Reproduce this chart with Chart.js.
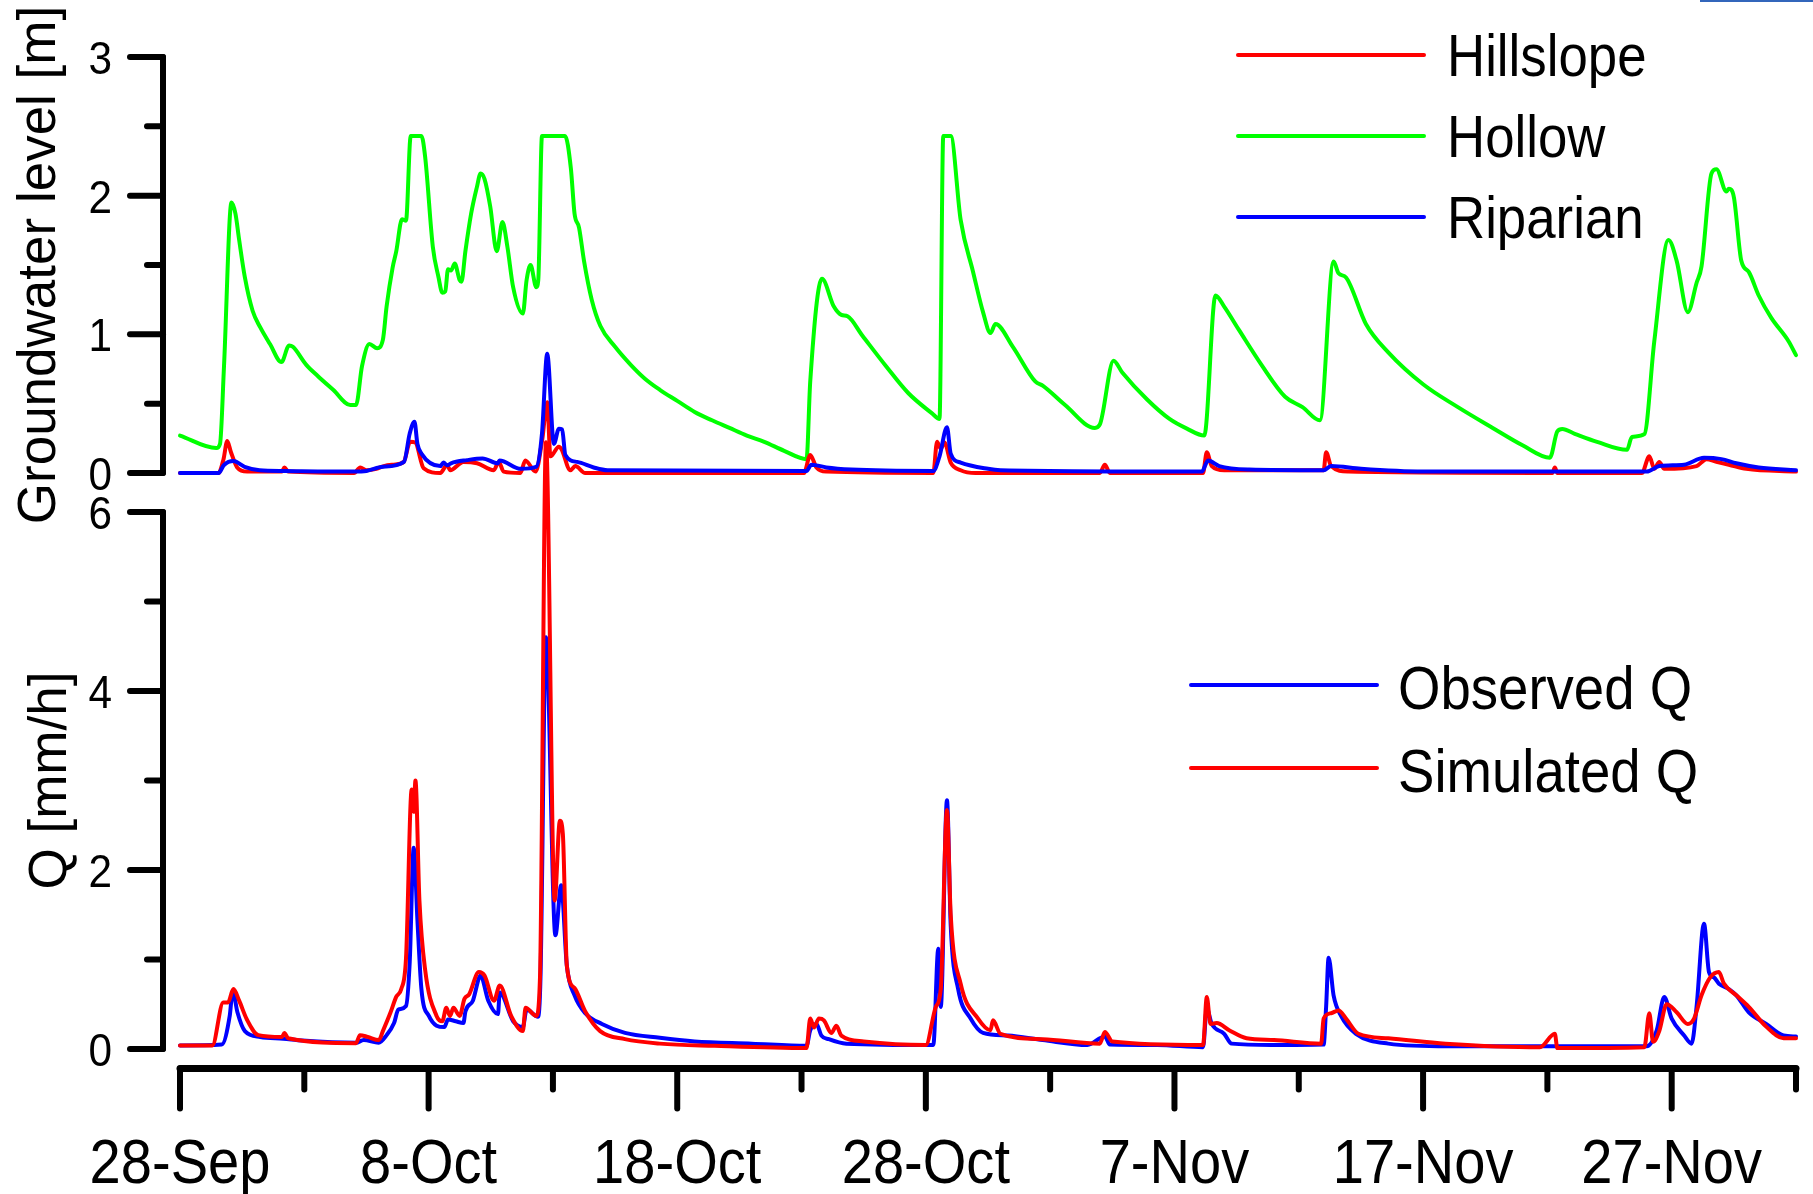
<!DOCTYPE html>
<html>
<head>
<meta charset="utf-8">
<title>Groundwater level and discharge</title>
<script src="https://cdn.jsdelivr.net/npm/chart.js@4/dist/chart.umd.min.js"></script>
<style>
  html, body { margin: 0; padding: 0; background: #fff; }
  #wrap { position: relative; width: 1813px; height: 1194px; overflow: hidden; }
  #wrap canvas { position: absolute; left: 0; top: 0; }
  #corner { position: absolute; left: 1700px; top: 0; width: 113px; height: 2px; background: #3366bb; }
</style>
</head>
<body>
<div id="wrap">
  <canvas id="gw-chart" width="1813" height="1194"></canvas>
  <canvas id="q-chart" width="1813" height="1194"></canvas>
  <div id="corner"></div>
</div>
<script>
// x values are days since 28-Sep 00:00
const dateLabels = ['28-Sep', '8-Oct', '18-Oct', '28-Oct', '7-Nov', '17-Nov', '27-Nov'];

// ---- groundwater level [m] ----
const hillslopeDays = [0, 1.55, 1.75, 1.9, 2.05, 2.3, 2.7, 4.1, 4.2, 4.35, 7.0, 7.25, 7.5, 7.9, 8.2, 8.6, 9.0, 9.26, 9.46, 9.8,
  10.47, 10.74, 10.87, 11.4, 11.95, 12.62, 12.82, 13.02, 13.69, 13.89, 14.3, 14.57, 14.77, 14.9, 15.24, 15.35, 15.7, 15.9, 16.3,
  17.5, 25.1, 25.35, 25.6, 26.0, 30.3, 30.45, 30.6, 30.75, 31.0, 31.4, 32.0, 37.0, 37.2, 37.4, 41.15, 41.3, 41.5, 42.0,
  46.0, 46.1, 46.3, 47.0, 55.2, 55.3, 55.4, 58.8, 59.1, 59.3, 59.5, 59.7, 61.0, 61.4, 61.8, 62.3, 63.0, 65.0];
const hillslopeLevel = [0, 0, 0.10, 0.23, 0.15, 0.04, 0.01, 0.01, 0.04, 0.01, 0, 0.04, 0.02, 0.03, 0.05, 0.06, 0.08, 0.225, 0.22, 0.034,
  0, 0.058, 0.02, 0.08, 0.07, 0.02, 0.08, 0.01, 0, 0.09, 0.01, 0.24, 0.51, 0.12, 0.19, 0.17, 0.02, 0.05, 0,
  0, 0, 0.13, 0.04, 0.01, 0, 0.225, 0.175, 0.22, 0.075, 0.02, 0, 0, 0.06, 0, 0, 0.15, 0.05, 0.02,
  0.02, 0.15, 0.05, 0.01, 0, 0.04, 0, 0, 0.12, 0.03, 0.08, 0.03, 0.05, 0.10, 0.08, 0.06, 0.03, 0.01];

const hollowDays = [0, 1.46, 1.61, 1.77, 2.07, 2.23, 2.38, 2.61, 2.92, 3.23, 3.62, 4.08, 4.39, 4.54, 5.08, 5.54, 6.16, 6.85, 7.08,
  7.32, 7.62, 7.93, 8.16, 8.31, 8.55, 8.70, 8.93, 9.09, 9.28, 9.71, 9.86, 10.17, 10.40, 10.55, 10.67, 10.78, 10.90, 11.05,
  11.25, 11.32, 11.48, 11.71, 11.94, 12.09, 12.25, 12.48, 12.74, 12.97, 13.17, 13.40, 13.79, 13.94, 14.10, 14.33, 14.41,
  14.56, 15.49, 15.72, 15.87, 16.05, 16.25, 16.56, 16.91, 17.5, 18.13, 18.7, 19.3, 20.0, 20.7, 21.4, 22.1, 22.8, 23.5, 24.3,
  25.2, 25.35, 25.82, 26.3, 26.6, 26.85, 27.45, 28.4, 29.3, 30.25, 30.55, 30.7, 31.0, 31.4, 31.9, 32.3, 32.6, 32.8, 33.5,
  34.4, 34.7, 35.6, 36.8, 37.0, 37.55, 37.9, 38.9, 39.8, 40.5, 41.2, 41.65, 42.0, 42.6, 43.5, 44.45, 45.15, 45.85, 46.4,
  46.6, 46.9, 47.7, 48.6, 50.0, 51.4, 52.8, 54.0, 55.1, 55.4, 55.6, 56.1, 57.0, 58.2, 58.4, 58.9, 59.3, 59.87, 60.2, 60.65,
  61.0, 61.2, 61.6, 61.8, 62.2, 62.3, 62.5, 62.8, 63.1, 63.5, 64.0, 64.7, 65.0];
const hollowLevel = [0.27, 0.18, 0.21, 0.77, 1.95, 1.87, 1.68, 1.41, 1.17, 1.05, 0.93, 0.80, 0.92, 0.91, 0.78, 0.70, 0.60, 0.49, 0.49,
  0.77, 0.93, 0.90, 0.96, 1.20, 1.48, 1.60, 1.83, 1.82, 2.43, 2.43, 2.28, 1.63, 1.41, 1.30, 1.31, 1.47, 1.46, 1.51,
  1.39, 1.38, 1.60, 1.87, 2.06, 2.16, 2.12, 1.92, 1.60, 1.81, 1.63, 1.34, 1.15, 1.39, 1.50, 1.34, 1.39,
  2.43, 2.43, 2.20, 1.87, 1.77, 1.53, 1.25, 1.06, 0.91, 0.78, 0.68, 0.60, 0.52, 0.44, 0.38, 0.325, 0.27, 0.225, 0.16,
  0.10, 0.66, 1.40, 1.20, 1.14, 1.13, 0.99, 0.77, 0.575, 0.43, 0.39, 2.43, 2.43, 1.825, 1.45, 1.16, 1.01, 1.075, 0.91,
  0.66, 0.63, 0.49, 0.325, 0.35, 0.81, 0.725, 0.53, 0.39, 0.32, 0.27, 1.28, 1.20, 1.03, 0.78, 0.55, 0.475, 0.38, 1.525,
  1.44, 1.41, 1.075, 0.87, 0.64, 0.475, 0.325, 0.20, 0.11, 0.30, 0.317, 0.283, 0.225, 0.167, 0.26, 0.28, 0.95, 1.68, 1.53, 1.16,
  1.37, 1.49, 2.16, 2.19, 2.03, 2.05, 1.99, 1.53, 1.45, 1.28, 1.12, 0.95, 0.85];

const riparianDays = [0, 1.55, 1.77, 2.15, 2.6, 3.2, 4.2, 7.0, 7.5, 8.16, 9.01, 9.24, 9.43, 9.55, 9.71, 10.47, 10.6, 10.75, 10.9,
  11.55, 12.17, 12.79, 12.85, 13.71, 14.33, 14.56, 14.77, 15.04, 15.24, 15.37, 15.5, 15.98, 16.64, 17.2, 25.2, 25.4, 26.0,
  27.0, 30.3, 30.55, 30.85, 31.0, 31.4, 32.5, 33.0, 41.1, 41.35, 41.8, 43.0, 46.0, 46.3, 47.5, 50.0, 59.0, 59.5, 60.5,
  61.3, 62.0, 62.6, 63.5, 65.0];
const riparianLevel = [0, 0, 0.058, 0.086, 0.045, 0.02, 0.015, 0.01, 0.015, 0.045, 0.08, 0.285, 0.37, 0.21, 0.14, 0.05, 0.075, 0.055, 0.07,
  0.093, 0.105, 0.07, 0.09, 0.03, 0.045, 0.285, 0.86, 0.21, 0.32, 0.315, 0.13, 0.08, 0.04, 0.02, 0.015, 0.06, 0.04,
  0.025, 0.015, 0.12, 0.33, 0.14, 0.075, 0.03, 0.02, 0.01, 0.09, 0.05, 0.025, 0.02, 0.05, 0.03, 0.01, 0.01, 0.05, 0.06,
  0.11, 0.10, 0.07, 0.04, 0.02];

// ---- discharge Q [mm/h] ----
const observedDays = [0, 1.68, 2.0, 2.12, 2.31, 2.61, 3.23, 4.16, 4.92, 7.08, 7.39, 7.99, 8.31, 8.61, 8.78, 9.09, 9.24, 9.4, 9.55,
  9.71, 10.01, 10.63, 10.78, 11.09, 11.4, 11.48, 11.78, 12.09, 12.4, 12.79, 12.86, 13.4, 13.79, 13.94, 14.4, 14.5, 14.72,
  15.1, 15.33, 15.56, 15.87, 16.3, 16.97, 17.9, 19.3, 20.7, 23.0, 25.2, 25.35, 25.6, 25.8, 26.1, 26.8, 30.3, 30.5, 30.6,
  30.85, 31.0, 31.3, 31.8, 32.3, 33.3, 34.7, 36.5, 37.2, 37.4, 39.3, 41.15, 41.3, 41.5, 42.0, 42.3, 43.9, 46.0, 46.1, 46.2,
  46.4, 46.7, 47.3, 48.6, 51.0, 59.0, 59.4, 59.7, 60.0, 60.5, 60.8, 61.0, 61.3, 61.5, 61.7, 61.9, 62.3, 62.6, 63.1, 63.8,
  64.5, 65.0];
const observedQ = [0.04, 0.05, 0.37, 0.65, 0.41, 0.20, 0.135, 0.115, 0.095, 0.07, 0.10, 0.07, 0.155, 0.29, 0.44, 0.48, 0.97, 2.25, 1.44,
  0.67, 0.37, 0.245, 0.33, 0.31, 0.29, 0.42, 0.54, 0.82, 0.54, 0.39, 0.63, 0.31, 0.245, 0.44, 0.36, 0.8, 4.6,
  1.27, 1.83, 0.93, 0.6, 0.4, 0.28, 0.18, 0.125, 0.085, 0.06, 0.035, 0.21, 0.28, 0.15, 0.11, 0.06, 0.045, 1.12, 0.47,
  2.78, 1.38, 0.67, 0.34, 0.18, 0.15, 0.10, 0.045, 0.14, 0.05, 0.045, 0.02, 0.45, 0.28, 0.17, 0.06, 0.045, 0.05, 0.47, 1.02,
  0.6, 0.37, 0.17, 0.06, 0.03, 0.03, 0.21, 0.58, 0.34, 0.15, 0.06, 0.47, 1.4, 0.86, 0.8, 0.73, 0.67, 0.6, 0.41, 0.28,
  0.15, 0.14];

const simulatedDays = [0, 1.3, 1.74, 1.93, 2.15, 2.38, 2.69, 3.15, 4.1, 4.2, 4.35, 7.08, 7.24, 7.55, 8.0, 8.16, 8.47, 8.7, 8.9, 9.09,
  9.32, 9.4, 9.47, 9.63, 9.86, 10.32, 10.55, 10.71, 10.86, 11.0, 11.25, 11.44, 11.63, 12.02, 12.25, 12.63, 12.86, 13.32,
  13.79, 13.9, 14.33, 14.48, 14.72, 15.07, 15.28, 15.4, 15.56, 15.87, 16.3, 16.9, 17.9, 19.3, 21.5, 25.2, 25.35, 25.5,
  25.7, 25.9, 26.2, 26.4, 26.6, 27.5, 30.0, 30.4, 30.6, 30.85, 31.0, 31.4, 32.1, 32.6, 32.7, 33.0, 34.7, 37.0, 37.2, 37.5,
  41.15, 41.3, 41.45, 41.7, 42.2, 42.9, 44.0, 45.9, 46.0, 46.3, 46.6, 46.9, 47.4, 48.6, 50.9, 54.7, 55.3, 55.4, 58.9, 59.1,
  59.25, 59.5, 59.8, 60.2, 60.65, 60.9, 61.2, 61.55, 61.9, 62.1, 62.6, 63.1, 63.8, 64.5, 65.0];
const simulatedQ = [0.04, 0.04, 0.52, 0.52, 0.67, 0.54, 0.33, 0.155, 0.135, 0.18, 0.12, 0.065, 0.155, 0.135, 0.10, 0.20, 0.41, 0.585, 0.67, 1.01,
  2.9, 2.65, 3.0, 1.66, 0.885, 0.37, 0.31, 0.46, 0.37, 0.46, 0.37, 0.56, 0.61, 0.86, 0.82, 0.54, 0.71, 0.37,
  0.2, 0.46, 0.37, 0.8, 6.78, 1.66, 2.55, 2.4, 0.93, 0.68, 0.42, 0.2, 0.11, 0.06, 0.035, 0.01, 0.34, 0.24,
  0.34, 0.32, 0.18, 0.26, 0.15, 0.085, 0.045, 0.47, 0.67, 2.67, 1.5, 0.73, 0.34, 0.21, 0.32, 0.17, 0.11, 0.06, 0.19, 0.085,
  0.045, 0.58, 0.28, 0.29, 0.21, 0.12, 0.10, 0.06, 0.34, 0.40, 0.43, 0.34, 0.17, 0.12, 0.06, 0.02, 0.17, 0.01, 0.02, 0.40,
  0.08, 0.2, 0.50, 0.41, 0.28, 0.34, 0.60, 0.80, 0.86, 0.73, 0.60, 0.47, 0.25, 0.12, 0.12];

// ---- helpers ----
const FONT = '"Liberation Sans", Arial, sans-serif';

function toPoints(days, values) {
  return days.map((d, i) => ({ x: d, y: values[i] }));
}

// text is a bit narrower than the plain face in the original figure
function drawText(ctx, text, x, y, size, align, squeeze) {
  ctx.save();
  ctx.font = size + 'px ' + FONT;
  ctx.fillStyle = '#000';
  ctx.textAlign = align;
  ctx.textBaseline = 'alphabetic';
  ctx.translate(x, y);
  ctx.scale(squeeze, 1);
  ctx.fillText(text, 0, 0);
  ctx.restore();
}

// left value axis: thick line, long/short ticks, labels, rotated title
const leftAxisPlugin = {
  id: 'leftAxis',
  beforeDatasetsDraw(chart, args, opts) {
    const ctx = chart.ctx;
    const y = chart.scales.y;
    const ax = opts.axisX;
    ctx.save();
    ctx.strokeStyle = '#000';
    ctx.lineCap = 'round';
    ctx.lineWidth = 6;
    ctx.beginPath();
    ctx.moveTo(ax, y.getPixelForValue(y.max));
    ctx.lineTo(ax, y.getPixelForValue(y.min));
    ctx.stroke();
    const n = Math.round((y.max - y.min) / opts.minorStep);
    for (let i = 0; i <= n; i++) {
      const v = y.min + i * opts.minorStep;
      const py = y.getPixelForValue(v);
      const major = i % 2 === 0;
      ctx.beginPath();
      ctx.moveTo(ax - (major ? 33 : 16), py);
      ctx.lineTo(ax, py);
      ctx.stroke();
      if (major) drawText(ctx, String(v), 112, py + 17, 46, 'right', 0.92);
    }
    ctx.translate(opts.titleX, (y.top + y.bottom) / 2);
    ctx.rotate(-Math.PI / 2);
    ctx.font = '53px ' + FONT;
    ctx.fillStyle = '#000';
    ctx.textAlign = 'center';
    ctx.fillText(opts.title, 0, 0);
    ctx.restore();
  }
};

// bottom date axis
const dateAxisPlugin = {
  id: 'dateAxis',
  beforeDatasetsDraw(chart, args, opts) {
    if (!opts.show) return;
    const ctx = chart.ctx;
    const x = chart.scales.x;
    const ay = opts.axisY;
    ctx.save();
    ctx.strokeStyle = '#000';
    ctx.lineCap = 'round';
    ctx.lineWidth = 7;
    ctx.beginPath();
    ctx.moveTo(x.getPixelForValue(x.min), ay);
    ctx.lineTo(x.getPixelForValue(x.max), ay);
    ctx.stroke();
    ctx.lineWidth = 6;
    for (let d = x.min, i = 0; d <= x.max; d += 5, i++) {
      const px = x.getPixelForValue(d);
      const major = i % 2 === 0;
      ctx.beginPath();
      ctx.moveTo(px, ay);
      ctx.lineTo(px, ay + (major ? 40 : 21));
      ctx.stroke();
      if (major && dateLabels[i / 2]) drawText(ctx, dateLabels[i / 2], px, 1183, 63, 'center', 0.89);
    }
    ctx.restore();
  }
};

// line-sample key
const seriesKeyPlugin = {
  id: 'seriesKey',
  afterDraw(chart, args, opts) {
    const ctx = chart.ctx;
    ctx.save();
    ctx.lineCap = 'round';
    ctx.lineWidth = 4;
    opts.items.forEach((idx, k) => {
      const ds = chart.data.datasets[idx];
      const yy = opts.y0 + k * opts.step;
      ctx.strokeStyle = ds.borderColor;
      ctx.beginPath();
      ctx.moveTo(opts.x0, yy);
      ctx.lineTo(opts.x1, yy);
      ctx.stroke();
      drawText(ctx, ds.label, opts.textX, yy + opts.dy, opts.size, 'left', 0.88);
    });
    ctx.restore();
  }
};

function lineSet(label, points, color, order) {
  return { label, data: points, borderColor: color, backgroundColor: color, order, clip: false };
}

function baseOptions(padding, yMax, axisOpts, keyOpts, dateOpts) {
  return {
    responsive: false,
    animation: false,
    devicePixelRatio: 1,
    layout: { padding },
    elements: {
      point: { radius: 0 },
      line: { borderWidth: 4, cubicInterpolationMode: 'monotone', borderJoinStyle: 'round', borderCapStyle: 'round' }
    },
    scales: {
      x: { type: 'linear', min: 0, max: 65, display: false },
      y: { min: 0, max: yMax, display: false }
    },
    plugins: {
      legend: { display: false },
      tooltip: { enabled: false },
      leftAxis: axisOpts,
      seriesKey: keyOpts,
      dateAxis: dateOpts
    }
  };
}

// ---- top panel: groundwater ----
new Chart(document.getElementById('gw-chart'), {
  type: 'line',
  data: {
    datasets: [
      lineSet('Hillslope', toPoints(hillslopeDays, hillslopeLevel), '#ff0000', 1),
      lineSet('Hollow', toPoints(hollowDays, hollowLevel), '#00ff00', 2),
      lineSet('Riparian', toPoints(riparianDays, riparianLevel), '#0000ff', 0)
    ]
  },
  options: baseOptions(
    { left: 180, right: 17, top: 57, bottom: 721 }, 3,
    { axisX: 163, minorStep: 0.5, titleX: 55, title: 'Groundwater level [m]' },
    { items: [0, 1, 2], x0: 1238, x1: 1424, textX: 1447, y0: 55, step: 81, dy: 21, size: 60 },
    { show: false }
  ),
  plugins: [leftAxisPlugin, seriesKeyPlugin, dateAxisPlugin]
});

// ---- bottom panel: discharge ----
new Chart(document.getElementById('q-chart'), {
  type: 'line',
  data: {
    datasets: [
      lineSet('Observed Q', toPoints(observedDays, observedQ), '#0000ff', 1),
      lineSet('Simulated Q', toPoints(simulatedDays, simulatedQ), '#ff0000', 0)
    ]
  },
  options: baseOptions(
    { left: 180, right: 17, top: 512, bottom: 145 }, 6,
    { axisX: 163, minorStep: 1, titleX: 66, title: 'Q [mm/h]' },
    { items: [0, 1], x0: 1191, x1: 1377, textX: 1398, y0: 685, step: 83, dy: 24, size: 62 },
    { show: true, axisY: 1068.5 }
  ),
  plugins: [leftAxisPlugin, seriesKeyPlugin, dateAxisPlugin]
});
</script>
</body>
</html>
